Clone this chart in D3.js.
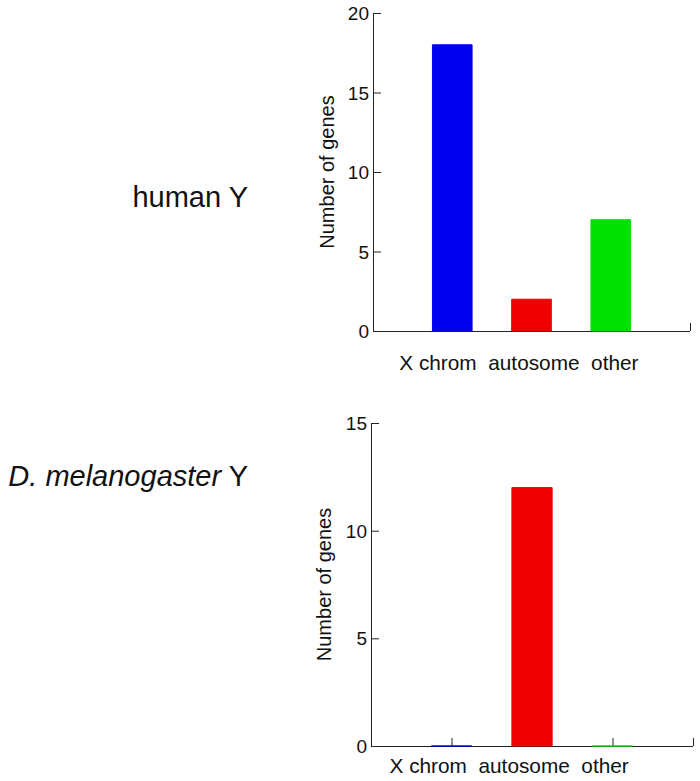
<!DOCTYPE html>
<html><head><meta charset="utf-8">
<script src="https://cdn.jsdelivr.net/npm/d3@7"></script>
<style>
html,body{margin:0;padding:0;background:#fff;}
svg{display:block;font-family:"Liberation Sans",Arial,sans-serif;}
</style></head>
<body>
<svg id="c" width="700" height="781"></svg>
<script>
const categories = ["X chrom", "autosome", "other"];
const barColors = ["#0000f0", "#f00000", "#00e000"];
const humanValues = [18, 2, 7];
const humanTicks = [0, 5, 10, 15, 20];
const flyValues = [0, 12, 0];
const flyTicks = [0, 5, 10, 15];

const svg = d3.select("#c");

function panel(cfg) {
  const g = svg.append("g");
  const x = d3.scaleLinear().domain([0, 4]).range([cfg.left, cfg.right]);
  const y = d3.scaleLinear().domain([0, cfg.ymax]).range([cfg.bottom, cfg.top]);
  const bw = 0.5;

  // x axis (ticks inward / upward), drawn under the bars
  const xa = d3.axisTop(x).tickValues([1, 2, 3, 4]).tickSize(8).tickFormat("");
  const xg = g.append("g").attr("transform", `translate(0,${cfg.bottom})`).call(xa);
  xg.select(".domain").attr("d", `M${cfg.left},0.5H${cfg.right}`).attr("stroke", "#222");
  xg.selectAll(".tick line").attr("stroke", "#222");

  // bars
  g.selectAll("path.bar").data(cfg.values).join("path")
    .attr("class", "bar")
    .attr("d", (d, i) => {
      const x0 = x(i + 1 - bw / 2), x1 = x(i + 1 + bw / 2);
      return `M${x0},${y(0)}H${x1}V${y(d)}H${x0}Z`;
    })
    .attr("fill", (d, i) => barColors[i])
    .attr("stroke", (d, i) => barColors[i])
    .attr("stroke-width", 1);

  // y axis (ticks inward)
  const ya = d3.axisRight(y).tickValues(cfg.ticks).tickSize(8).tickFormat("");
  const yg = g.append("g").attr("transform", `translate(${cfg.left},0)`).call(ya);
  yg.select(".domain").attr("d", `M0.5,${y(cfg.ymax)}V${y(0)}`).attr("stroke", "#222");
  yg.selectAll(".tick line").attr("stroke", "#222");
  g.selectAll("text.ytl").data(cfg.ticks).join("text")
    .attr("class", "ytl")
    .attr("x", cfg.left - 4).attr("y", d => y(d) + 7)
    .attr("text-anchor", "end").attr("font-size", 19).attr("fill", "#111")
    .text(d => d);

  // category labels as one line
  g.append("text")
    .attr("x", x(1) + cfg.labelDx).attr("y", cfg.labelY)
    .attr("font-size", 20.8).attr("fill", "#111")
    .style("white-space", "pre").attr("xml:space", "preserve")
    .text(categories.join("  "));

  // y title
  g.append("text")
    .attr("transform", `translate(${cfg.titleX},${(y(0) + y(cfg.ymax)) / 2}) rotate(-90)`)
    .attr("text-anchor", "middle").attr("font-size", 20).attr("fill", "#111")
    .text("Number of genes");
}

panel({ values: humanValues, ticks: humanTicks, ymax: 20,
  left: 373, right: 690, top: 13, bottom: 331,
  labelDx: -53, labelY: 370, titleX: 334 });
panel({ values: flyValues, ticks: flyTicks, ymax: 15,
  left: 371, right: 693, top: 423, bottom: 746,
  labelDx: -62, labelY: 773, titleX: 331 });

// panel labels
svg.append("text").attr("x", 248).attr("y", 207).attr("text-anchor", "end")
  .attr("font-size", 29).attr("fill", "#111").text("human Y");
const t2 = svg.append("text").attr("x", 248).attr("y", 486).attr("text-anchor", "end")
  .attr("font-size", 29).attr("fill", "#111");
t2.append("tspan").attr("font-style", "italic").text("D. melanogaster");
t2.append("tspan").text(" Y");
</script>
</body></html>
